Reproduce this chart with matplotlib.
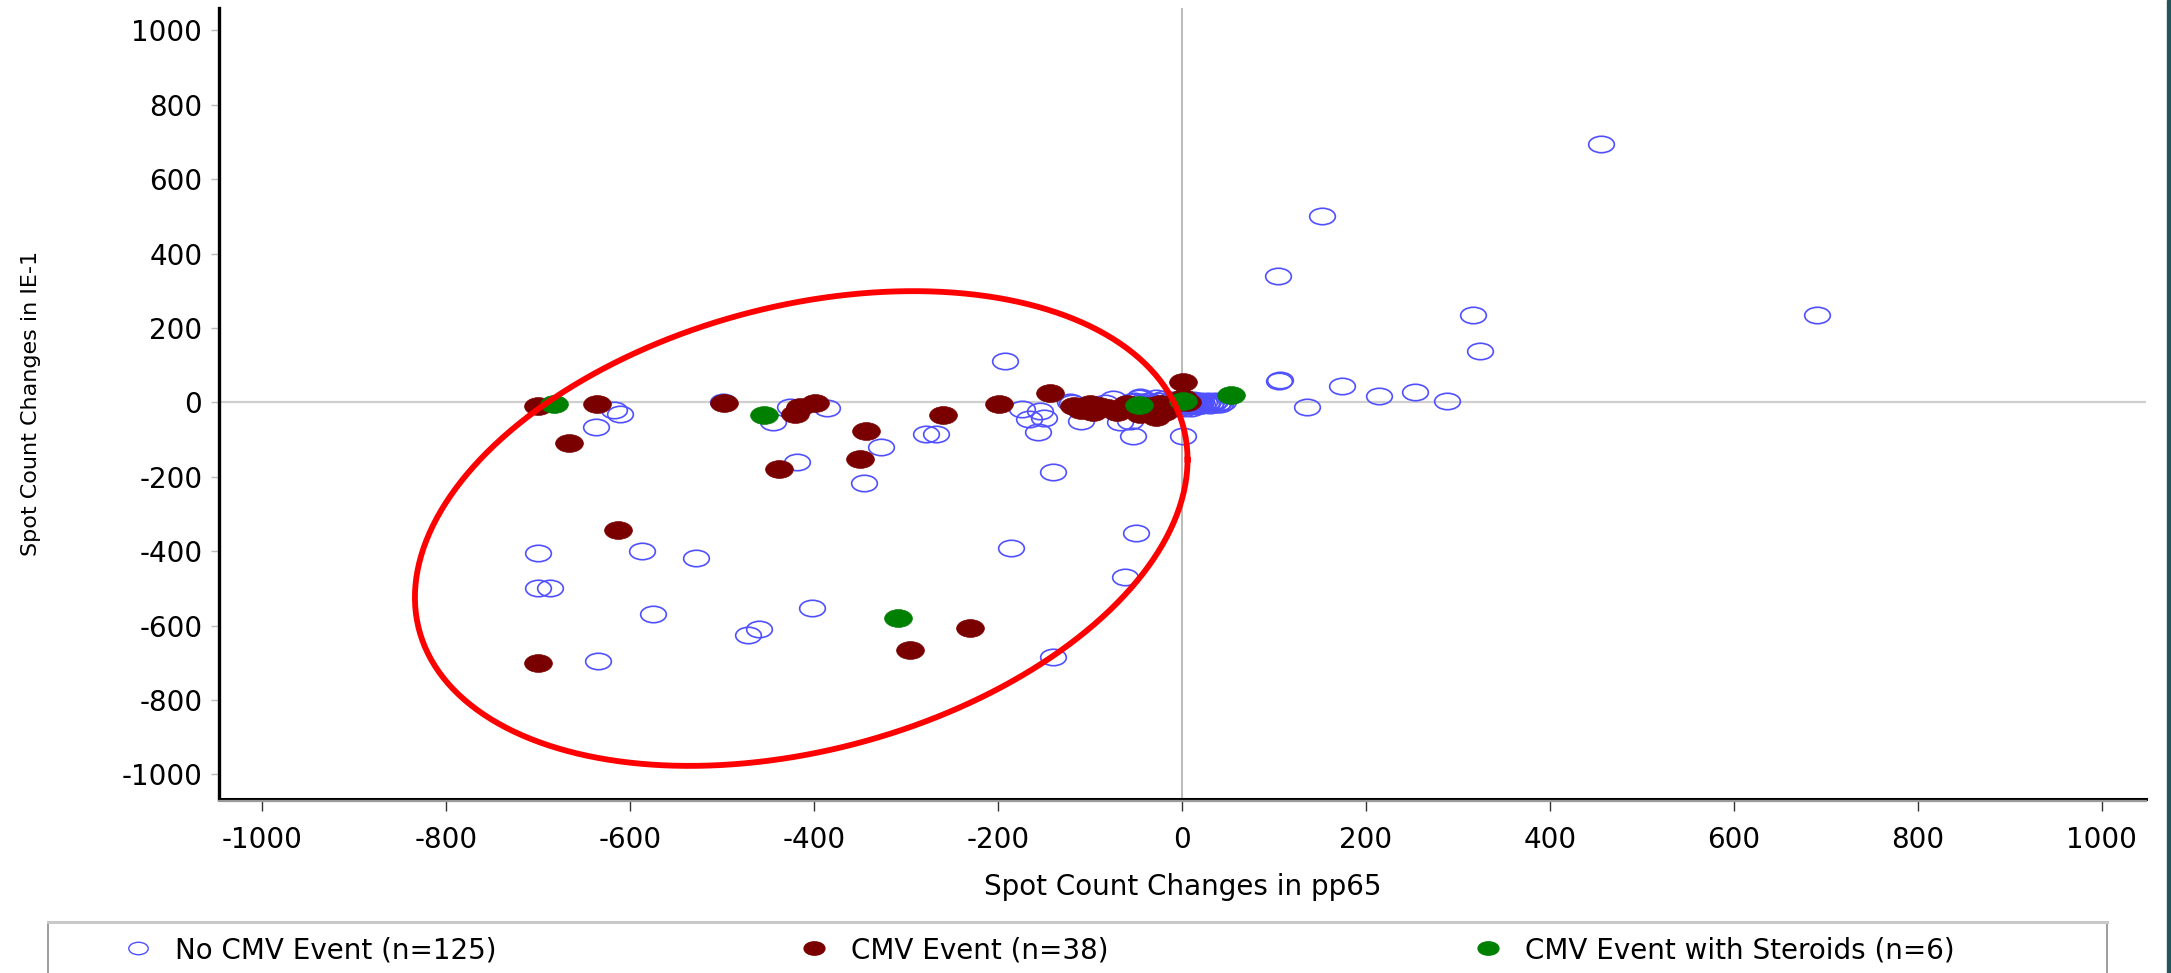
import numpy as np
import matplotlib.pyplot as plt
from matplotlib.path import Path
from matplotlib.transforms import Affine2D
from matplotlib.lines import Line2D
from matplotlib.patches import Rectangle

# --- data (spot count changes pp65 vs IE-1) ---
# No CMV event (n=125), hollow blue
no_cmv_x = [456, 152, 104, 316, 690, 324, 105, 107, 174, 136, 214, 253, 288, 44, 20, 1,
            -192, -618, -611, -637, -445, -426, -386, -499, -327, -419,
            -346, -278, -268, -174, -154, -166, -150, -157, -140, -110,
            -120, -84, -75, -57, -53, -47, -186, -50, -62, -140,
            -700, -700, -687, -587, -528, -575, -402, -472, -460, -635,
            -122, -46, -28, -9, 12, 27, 41, 5, -17, -38, -67,
            -60, -55, -52, -48, -44, -40, -36, -33, -30, -26,
            -23, -20, -18, -15, -13, -11, -9, -7, -6, -4,
            -3, -2, -1, 0, 0, 1, 2, 3, 4, 5,
            6, 7, 8, 9, 10, 11, 12, 13, 14, 15,
            16, 17, 19, 21, 22, 24, 26, 28, 30, 32,
            34, 36, 38, 40, -28, -16, 2, 10]
no_cmv_y = [694, 501, 339, 235, 235, 139, 58, 61, 44, -13, 17, 28, 4, 2, 0, -90,
            112, -21, -30, -67, -52, -13, -14, 2, -119, -160,
            -216, -86, -86, -19, -22, -46, -41, -79, -188, -49,
            -1, -1, 8, -49, -91, 11, -392, -350, -469, -685,
            -406, -500, -500, -400, -417, -569, -552, -626, -609, -695,
            2, 15, 11, -12, 6, -1, -3, -3, -3, -3, -52,
            -5, 0, 4, -8, 2, -10, 5, -2, -12, 3,
            -6, 8, -10, 2, -4, 6, -2, -8, 3, 0,
            -5, 4, -1, 0, -3, 2, -6, 5, -1, -9,
            3, -3, 0, -6, 4, -2, -8, 1, -4, 3,
            -10, 0, -5, 4, -7, 1, -3, 5, -6, 0,
            -2, 4, -5, 2, -18, -20, -15, -14]

# CMV event (n=38), filled dark red
cmv_x = [-700, -636, -666, -498, -421, -415, -399, -344, -350, -438,
         -260, -199, -144, -118, -100, -97, -71, -60, -49, -46,
         -28, -24, -17, 1, 1, -613, -700, -230, -296, -90,
         -80, -10, -35, -5, -95, -110, -20, 5]
cmv_y = [-10, -3, -110, -1, -30, -13, -1, -77, -151, -178,
         -35, -5, 24, -10, -3, -25, -25, -3, -16, -30,
         -40, -3, -16, 55, 11, -343, -700, -606, -666, -10,
         -15, -5, -10, 5, -15, -20, -25, 0]

# CMV event with steroids (n=6), filled green
steroid_x = [-683, -454, -309, -47, 1, 53]
steroid_y = [-5, -35, -579, -7, 3, 21]

series_labels = ["No CMV Event (n=125)", "CMV Event (n=38)", "CMV Event with Steroids (n=6)"]
axis_ticks = list(range(-1000, 1001, 200))

# red outline drawn round the left-hand group
ELL_CX, ELL_CY = -414, -339
ELL_AX, ELL_AY = 420, 638
ELL_PHASE = np.arccos(0.29)

plt.rcParams['font.family'] = 'DejaVu Sans'
plt.rcParams['axes.unicode_minus'] = False

W, H = 2171, 973
fig = plt.figure(figsize=(W / 100, H / 100), dpi=100)
ax = fig.add_axes([219 / W, (H - 799) / H, (2146 - 219) / W, (799 - 8) / H])

# widened circle, the source picture is stretched sideways
oval = Path.unit_circle().transformed(Affine2D().scale(1, 0.64))

ax.axhline(0, color='#cfcfcf', lw=1.6, zorder=1)
ax.axvline(0, color='#a8a8a8', lw=1.1, zorder=1)

ax.plot(no_cmv_x, no_cmv_y, ls='none', marker=oval, ms=18.5, mfc='none',
        mec='#5050ff', mew=1.2, zorder=3)
ax.plot(cmv_x, cmv_y, ls='none', marker=oval, ms=20, mfc='#7a0000',
        mec='#7a0000', mew=0.5, zorder=4)
ax.plot(steroid_x, steroid_y, ls='none', marker=oval, ms=20, mfc='#008000',
        mec='#008000', mew=0.5, zorder=5)

t = np.linspace(0, 2 * np.pi, 400)
ax.plot(ELL_CX + ELL_AX * np.cos(t), ELL_CY + ELL_AY * np.cos(t - ELL_PHASE),
        color='#ff0000', lw=4.2, zorder=6)

ax.set_xlim(-1047, 1048)
ax.set_ylim(-1066, 1060)
ax.set_xticks(axis_ticks)
ax.set_yticks(axis_ticks)
ax.tick_params(axis='x', length=8.5, width=1.0, color='#333333', pad=11, labelsize=20)
ax.tick_params(axis='y', length=6, width=1.0, color='#bbbbbb', pad=6, labelsize=20)

for side in ['top', 'right']:
    ax.spines[side].set_visible(False)
ax.spines['left'].set_linewidth(2.4)
ax.spines['bottom'].set_linewidth(2.2)

# grey shadow under the bottom axis line
fig.add_artist(Line2D([219 / W, 2146 / W], [(H - 801) / H] * 2, color='#9a9a9a', lw=1.6))

ax.set_xlabel('Spot Count Changes in pp65', fontsize=20, va='center')
ax.xaxis.set_label_coords(0.5, -(887 - 799) / (799 - 8))
ax.set_ylabel('Spot Count Changes in IE-1', fontsize=16, va='center')
ax.yaxis.set_label_coords(-(219 - 31) / (2146 - 219), 0.5)

# legend box along the bottom (cut off by the image edge)
fig.add_artist(Rectangle((48 / W, -0.05), (2107 - 48) / W, 0.05 + (H - 923) / H,
                         transform=fig.transFigure, facecolor='white',
                         edgecolor='#8c8c8c', lw=1.2))
fig.add_artist(Line2D([48 / W, 2107 / W], [(H - 922) / H] * 2, color='#c8c8c8', lw=2.2))

handles = [
    Line2D([], [], ls='none', marker=oval, ms=14, mfc='none', mec='#5050ff', mew=1.0),
    Line2D([], [], ls='none', marker=oval, ms=15, mfc='#7a0000', mec='#7a0000'),
    Line2D([], [], ls='none', marker=oval, ms=15, mfc='#008000', mec='#008000'),
]
for h, lab, mx in zip(handles, series_labels, [138, 814, 1488]):
    fig.legend([h], [lab], loc='center left',
               bbox_to_anchor=((mx - 14) / W, (H - 950) / H),
               frameon=False, fontsize=20, handlelength=1.0, handletextpad=0.85,
               borderpad=0, borderaxespad=0)

# thin dark strip on the right edge of the picture
fig.add_artist(Rectangle((2167 / W, 0), 4 / W, 1, transform=fig.transFigure,
                         color='#24555c'))

fig.savefig('out.png', dpi=100)
